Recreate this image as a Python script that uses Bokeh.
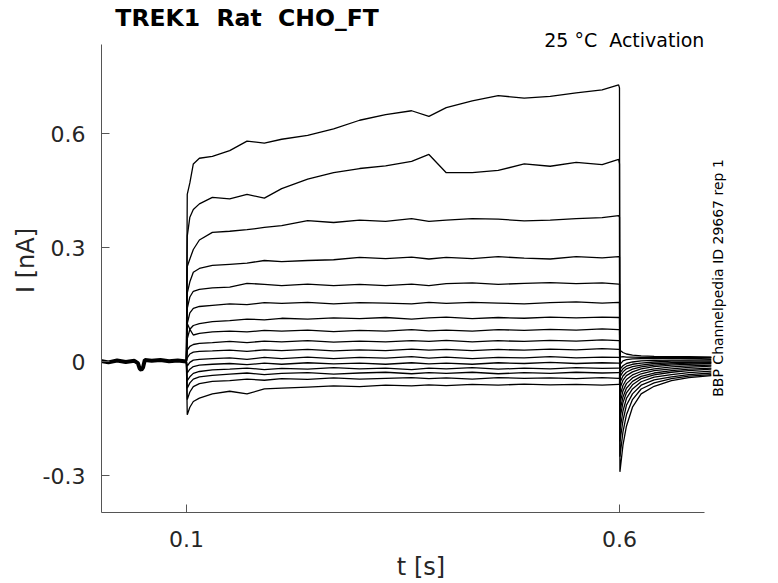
from bokeh.plotting import figure
from bokeh.models import Range1d, FixedTicker, CustomJSTickFormatter, Label
from bokeh.embed import file_html
from bokeh.resources import INLINE

# time bases [s]
t_hold = [0.0, 0.01, 0.02, 0.03, 0.04, 0.044, 0.046, 0.048, 0.05, 0.052, 0.06, 0.07, 0.08, 0.09, 0.1]
t_step = [0.1, 0.101, 0.104, 0.108, 0.115, 0.13, 0.15, 0.17, 0.19, 0.21, 0.24, 0.27,
          0.30, 0.33, 0.36, 0.38, 0.40, 0.43, 0.46, 0.49, 0.52, 0.55, 0.58, 0.599]
t_tail = [0.6, 0.6005, 0.604, 0.608, 0.615, 0.625, 0.64, 0.66, 0.68, 0.706]

# holding current [nA], same for all sweeps
i_hold = [0.002, -0.002, 0.003, -0.001, 0.002, -0.004, -0.018, -0.022, -0.015, 0.004, 0.002, 0.004, 0.001, 0.003, 0.0]

# currents during the step [nA], sweep 1 = largest
step_01 = [0.0, 0.44, 0.47, 0.52, 0.535, 0.54, 0.555, 0.58, 0.575, 0.585, 0.595, 0.612, 0.635, 0.65, 0.66, 0.645, 0.668, 0.686, 0.70, 0.693, 0.698, 0.707, 0.715, 0.728]
step_02 = [0.0, 0.33, 0.38, 0.40, 0.415, 0.432, 0.428, 0.44, 0.43, 0.455, 0.48, 0.497, 0.508, 0.515, 0.527, 0.545, 0.497, 0.497, 0.503, 0.52, 0.514, 0.524, 0.518, 0.532]
step_03 = [0.0, 0.25, 0.27, 0.295, 0.32, 0.34, 0.343, 0.347, 0.353, 0.358, 0.371, 0.366, 0.372, 0.369, 0.376, 0.369, 0.372, 0.376, 0.375, 0.37, 0.372, 0.376, 0.379, 0.384]
step_04 = [0.0, 0.18, 0.21, 0.235, 0.245, 0.253, 0.256, 0.259, 0.266, 0.263, 0.266, 0.268, 0.274, 0.271, 0.275, 0.27, 0.274, 0.271, 0.276, 0.272, 0.27, 0.276, 0.273, 0.276]
step_05 = [0.0, 0.14, 0.17, 0.185, 0.19, 0.194, 0.196, 0.206, 0.203, 0.2, 0.204, 0.2, 0.203, 0.2, 0.204, 0.2, 0.205, 0.207, 0.203, 0.206, 0.208, 0.205, 0.207, 0.204]
step_06 = [0.0, 0.1, 0.128, 0.14, 0.145, 0.148, 0.152, 0.15, 0.155, 0.153, 0.156, 0.152, 0.155, 0.154, 0.152, 0.156, 0.153, 0.156, 0.154, 0.152, 0.155, 0.157, 0.154, 0.156]
step_07 = [0.0, 0.06, 0.085, 0.095, 0.1, 0.105, 0.108, 0.112, 0.11, 0.114, 0.112, 0.115, 0.113, 0.116, 0.112, 0.115, 0.117, 0.113, 0.116, 0.114, 0.117, 0.115, 0.117, 0.116]
step_08 = [0.0, 0.1, 0.085, 0.07, 0.074, 0.078, 0.08, 0.078, 0.082, 0.08, 0.083, 0.079, 0.082, 0.08, 0.084, 0.081, 0.083, 0.08, 0.084, 0.082, 0.085, 0.083, 0.086, 0.084]
step_09 = [0.0, 0.03, 0.04, 0.045, 0.048, 0.05, 0.053, 0.05, 0.054, 0.052, 0.055, 0.051, 0.054, 0.052, 0.055, 0.053, 0.056, 0.052, 0.055, 0.053, 0.056, 0.054, 0.057, 0.055]
step_10 = [0.0, 0.01, 0.02, 0.025, 0.027, 0.028, 0.03, 0.027, 0.031, 0.029, 0.032, 0.028, 0.031, 0.029, 0.033, 0.03, 0.032, 0.029, 0.032, 0.03, 0.033, 0.031, 0.034, 0.032]
step_11 = [0.0, -0.012, -0.002, 0.004, 0.006, 0.008, 0.01, 0.006, 0.011, 0.008, 0.012, 0.008, 0.011, 0.009, 0.013, 0.009, 0.012, 0.008, 0.011, 0.01, 0.013, 0.01, 0.012, 0.011]
step_12 = [0.0, -0.03, -0.02, -0.013, -0.009, -0.007, -0.005, -0.008, -0.004, -0.007, -0.003, -0.006, -0.004, -0.007, -0.003, -0.006, -0.004, -0.007, -0.003, -0.005, -0.002, -0.005, -0.003, -0.004]
step_13 = [0.0, -0.05, -0.04, -0.031, -0.026, -0.022, -0.02, -0.017, -0.021, -0.018, -0.02, -0.016, -0.019, -0.017, -0.021, -0.017, -0.019, -0.016, -0.02, -0.017, -0.019, -0.016, -0.018, -0.017]
step_14 = [0.0, -0.07, -0.056, -0.046, -0.04, -0.036, -0.033, -0.03, -0.034, -0.031, -0.029, -0.033, -0.03, -0.028, -0.032, -0.029, -0.031, -0.028, -0.032, -0.029, -0.031, -0.028, -0.03, -0.029]
step_15 = [0.0, -0.1, -0.08, -0.066, -0.058, -0.052, -0.05, -0.046, -0.049, -0.045, -0.047, -0.043, -0.046, -0.044, -0.042, -0.045, -0.043, -0.046, -0.042, -0.044, -0.043, -0.045, -0.042, -0.044]
step_16 = [0.0, -0.14, -0.12, -0.105, -0.096, -0.085, -0.078, -0.085, -0.072, -0.07, -0.067, -0.064, -0.066, -0.062, -0.064, -0.061, -0.063, -0.06, -0.062, -0.059, -0.061, -0.06, -0.062, -0.06]

# tail currents after the step [nA]
tail_01 = [0.72, -0.29, -0.22, -0.17, -0.12, -0.085, -0.065, -0.05, -0.042, -0.037]
tail_02 = [0.52, -0.25, -0.185, -0.14, -0.1, -0.072, -0.056, -0.045, -0.038, -0.034]
tail_03 = [0.38, -0.21, -0.155, -0.115, -0.085, -0.062, -0.048, -0.04, -0.034, -0.03]
tail_04 = [0.275, -0.18, -0.13, -0.097, -0.072, -0.053, -0.041, -0.034, -0.029, -0.025]
tail_05 = [0.204, -0.15, -0.108, -0.082, -0.061, -0.045, -0.035, -0.028, -0.024, -0.02]
tail_06 = [0.155, -0.13, -0.093, -0.07, -0.052, -0.039, -0.03, -0.024, -0.02, -0.017]
tail_07 = [0.116, -0.11, -0.077, -0.058, -0.043, -0.032, -0.024, -0.019, -0.015, -0.012]
tail_08 = [0.084, -0.09, -0.063, -0.047, -0.035, -0.026, -0.019, -0.014, -0.011, -0.009]
tail_09 = [0.055, -0.07, -0.049, -0.037, -0.027, -0.019, -0.013, -0.009, -0.007, -0.005]
tail_10 = [0.032, -0.055, -0.038, -0.028, -0.02, -0.014, -0.009, -0.006, -0.004, -0.003]
tail_11 = [0.011, -0.04, -0.027, -0.019, -0.013, -0.009, -0.005, -0.003, -0.002, -0.001]
tail_12 = [-0.004, -0.03, -0.019, -0.012, -0.007, -0.004, -0.001, 0.001, 0.001, 0.002]
tail_13 = [-0.017, -0.02, -0.011, -0.005, -0.001, 0.002, 0.003, 0.004, 0.004, 0.005]
tail_14 = [-0.029, -0.008, 0.002, 0.005, 0.007, 0.008, 0.008, 0.009, 0.008, 0.009]
tail_15 = [-0.044, 0.012, 0.013, 0.012, 0.012, 0.011, 0.011, 0.012, 0.011, 0.011]
tail_16 = [-0.06, 0.03, 0.024, 0.02, 0.017, 0.015, 0.014, 0.013, 0.013, 0.012]

x_ticks = [0.1, 0.6]
x_tick_labels = ["0.1", "0.6"]
y_ticks = [-0.3, 0.0, 0.3, 0.6]
y_tick_labels = ["-0.3", "0", "0.3", "0.6"]

steps = [step_01, step_02, step_03, step_04, step_05, step_06, step_07, step_08,
         step_09, step_10, step_11, step_12, step_13, step_14, step_15, step_16]
tails = [tail_01, tail_02, tail_03, tail_04, tail_05, tail_06, tail_07, tail_08,
         tail_09, tail_10, tail_11, tail_12, tail_13, tail_14, tail_15, tail_16]

FONT = "DejaVu Sans"
TXT = "#262626"
NB = "\u00a0"  # keeps the doubled gaps of the original texts

# axes span x 0.002..0.698 and y -0.397..0.834; the frame is larger so that
# the title and side texts (drawn as labels) are not clipped
X0, X1 = 0.002, 0.698
Y0, Y1 = -0.397, 0.834

p = figure(frame_width=639, frame_height=504,
           x_range=Range1d(X0, 0.7397), y_range=Range1d(Y0, 0.929),
           output_backend="svg", toolbar_location=None,
           min_border_left=101, min_border_right=22, min_border_top=8, min_border_bottom=70)
p.grid.visible = False
p.outline_line_color = None

p.line(t_hold, i_hold, color="black", line_width=4)
for s, tl in zip(steps, tails):
    p.line(t_step + t_tail, s + tl, color="black", line_width=1.3)

for ax, ticks, labels in [(p.xaxis, x_ticks, x_tick_labels), (p.yaxis, y_ticks, y_tick_labels)]:
    ax.ticker = FixedTicker(ticks=ticks)
    ax.formatter = CustomJSTickFormatter(args=dict(labels=labels), code="return labels[index];")
    ax.major_tick_in = 8
    ax.major_tick_out = 0
    ax.minor_tick_line_color = None
    ax.axis_line_color = "#555555"
    ax.major_tick_line_color = "#555555"
    ax.major_label_text_font = FONT
    ax.major_label_text_font_size = "22px"
    ax.major_label_text_color = TXT
    ax.axis_label_text_font = FONT
    ax.axis_label_text_font_size = "24px"
    ax.axis_label_text_font_style = "normal"
    ax.axis_label_text_color = TXT

p.xaxis.bounds = (X0, X1)
p.yaxis.bounds = (Y0, Y1)
p.xaxis.axis_label = "t [s]"
p.yaxis.axis_label = "I [nA]"
p.xaxis.major_label_standoff = 18
p.yaxis.major_label_standoff = 16
p.xaxis.axis_label_standoff = 3
p.yaxis.axis_label_standoff = 0

p.add_layout(Label(x=0.018, y=0.903, text="TREK1" + NB + " Rat" + NB + " CHO_FT", text_font=FONT,
                   text_font_size="23.5px", text_font_style="bold", text_color="black",
                   text_baseline="middle"))
p.add_layout(Label(x=0.698, y=0.845, text="25 °C" + NB + " Activation", text_font=FONT,
                   text_font_size="19px", text_color="black", text_align="right",
                   text_baseline="middle"))
p.add_layout(Label(x=0.7143, y=0.22, text="BBP Channelpedia ID 29667 rep 1", text_font=FONT,
                   text_font_size="14px", text_color="black", text_align="center",
                   text_baseline="middle", angle=1.5708))

open("out.html", "w").write(file_html(p, INLINE))
